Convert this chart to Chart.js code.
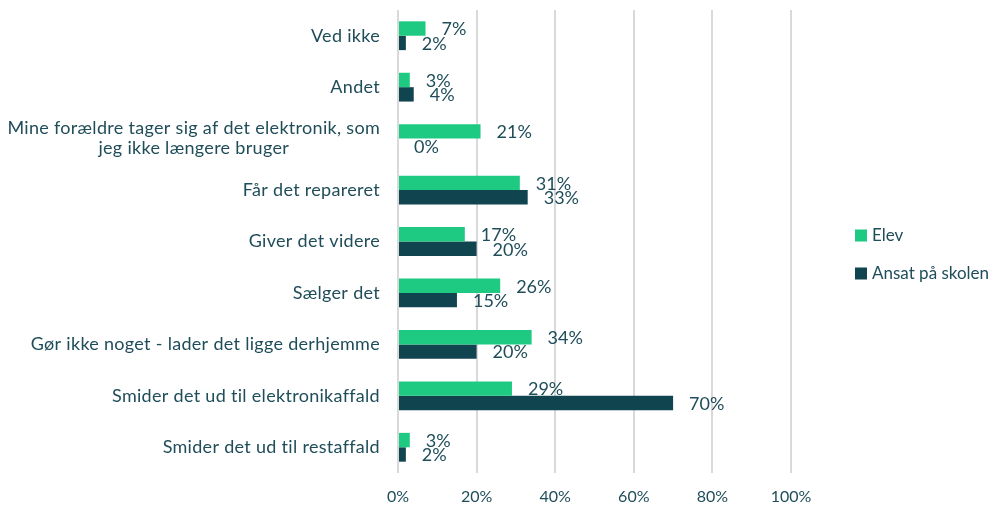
<!DOCTYPE html>
<html>
<head>
<meta charset="utf-8">
<script src="https://cdn.jsdelivr.net/npm/chart.js@4.4.1/dist/chart.umd.min.js"></script>
<style>
  html, body { margin: 0; padding: 0; background: #fff; }
  #wrap { width: 1001px; height: 508px; }
</style>
</head>
<body>
<div id="wrap"><canvas id="chart"></canvas></div>
<script>
const categories = [
  "Ved ikke",
  "Andet",
  ["Mine forældre tager sig af det elektronik, som", "jeg ikke længere bruger"],
  "Får det repareret",
  "Giver det videre",
  "Sælger det",
  "Gør ikke noget - lader det ligge derhjemme",
  "Smider det ud til elektronikaffald",
  "Smider det ud til restaffald"
];
const seriesNames = ["Elev", "Ansat på skolen"];
const elevValues = [7, 3, 21, 31, 17, 26, 34, 29, 3];
const ansatValues = [2, 4, 0, 33, 20, 15, 20, 70, 2];
const xTicks = [0, 20, 40, 60, 80, 100];

const TEXT = "#1f4d59";
const colors = ["#1ec981", "#10454f"];

// category labels, drawn so the wrapped one is centred like the original
const yLabels = {
  id: "yLabels",
  afterDraw(chart) {
    const ctx = chart.ctx;
    const y = chart.scales.y;
    const right = chart.chartArea.left - 18;
    ctx.save();
    ctx.font = "18px Lato";
    ctx.letterSpacing = "0.3px";
    ctx.fillStyle = TEXT;
    ctx.textBaseline = "middle";
    chart.data.labels.forEach((lab, i) => {
      const lines = Array.isArray(lab) ? lab : [lab];
      const cy = y.getPixelForTick(i);
      const lh = 20;
      const maxW = Math.max(...lines.map(l => ctx.measureText(l).width));
      lines.forEach((l, j) => {
        const ly = cy + (j - (lines.length - 1) / 2) * lh;
        if (lines.length > 1) {
          ctx.textAlign = "center";
          ctx.fillText(l, right - maxW / 2, ly);
        } else {
          ctx.textAlign = "right";
          ctx.fillText(l, right, ly);
        }
      });
    });
    ctx.restore();
  }
};

const valueLabels = {
  id: "valueLabels",
  afterDatasetsDraw(chart) {
    const ctx = chart.ctx;
    ctx.save();
    ctx.font = "18px Lato";
    ctx.fillStyle = TEXT;
    ctx.textAlign = "left";
    ctx.textBaseline = "middle";
    chart.data.datasets.forEach((ds, di) => {
      chart.getDatasetMeta(di).data.forEach((bar, i) => {
        ctx.fillText(ds.data[i] + "%", bar.x + 16, bar.y + 1);
      });
    });
    ctx.restore();
  }
};

const sideLegend = {
  id: "sideLegend",
  afterDraw(chart) {
    const ctx = chart.ctx;
    const area = chart.chartArea;
    const x = area.right + 64;
    const mid = (area.top + area.bottom) / 2 + 13;
    ctx.save();
    ctx.font = "17px Lato";
    ctx.textBaseline = "middle";
    ctx.textAlign = "left";
    chart.data.datasets.forEach((ds, i) => {
      const cy = mid + (i === 0 ? -19 : 19);
      ctx.fillStyle = ds.backgroundColor;
      ctx.fillRect(x, cy - 6, 12, 12);
      ctx.fillStyle = TEXT;
      ctx.fillText(ds.label, x + 17, cy);
    });
    ctx.restore();
  }
};

const canvas = document.getElementById("chart").getContext("2d");

new Chart(canvas, {
  type: "bar",
  data: {
    labels: categories,
    datasets: [
      { label: seriesNames[0], data: elevValues, backgroundColor: colors[0] },
      { label: seriesNames[1], data: ansatValues, backgroundColor: colors[1] }
    ]
  },
  options: {
    indexAxis: "y",
    responsive: true,
    maintainAspectRatio: false,
    animation: false,
    layout: { padding: { top: 10, right: 210, bottom: 0, left: 0 } },
    datasets: { bar: { categoryPercentage: 0.56, barPercentage: 1 } },
    scales: {
      x: {
        min: 0,
        max: 100,
        afterBuildTicks: (s) => { s.ticks = xTicks.map(v => ({ value: v })); },
        afterFit: (s) => { s.height = 35; },
        ticks: {
          color: TEXT,
          font: { family: "Lato", size: 16 },
          padding: 14,
          callback: (v) => v + "%"
        },
        grid: { color: "#d9d9d9", lineWidth: 2, drawTicks: false },
        border: { display: false }
      },
      y: {
        afterFit: (s) => { s.width = 398; },
        ticks: { display: false },
        grid: { display: false },
        border: { display: false }
      }
    },
    plugins: {
      legend: { display: false },
      tooltip: { enabled: false }
    }
  },
  plugins: [yLabels, valueLabels, sideLegend]
});
</script>
</body>
</html>
